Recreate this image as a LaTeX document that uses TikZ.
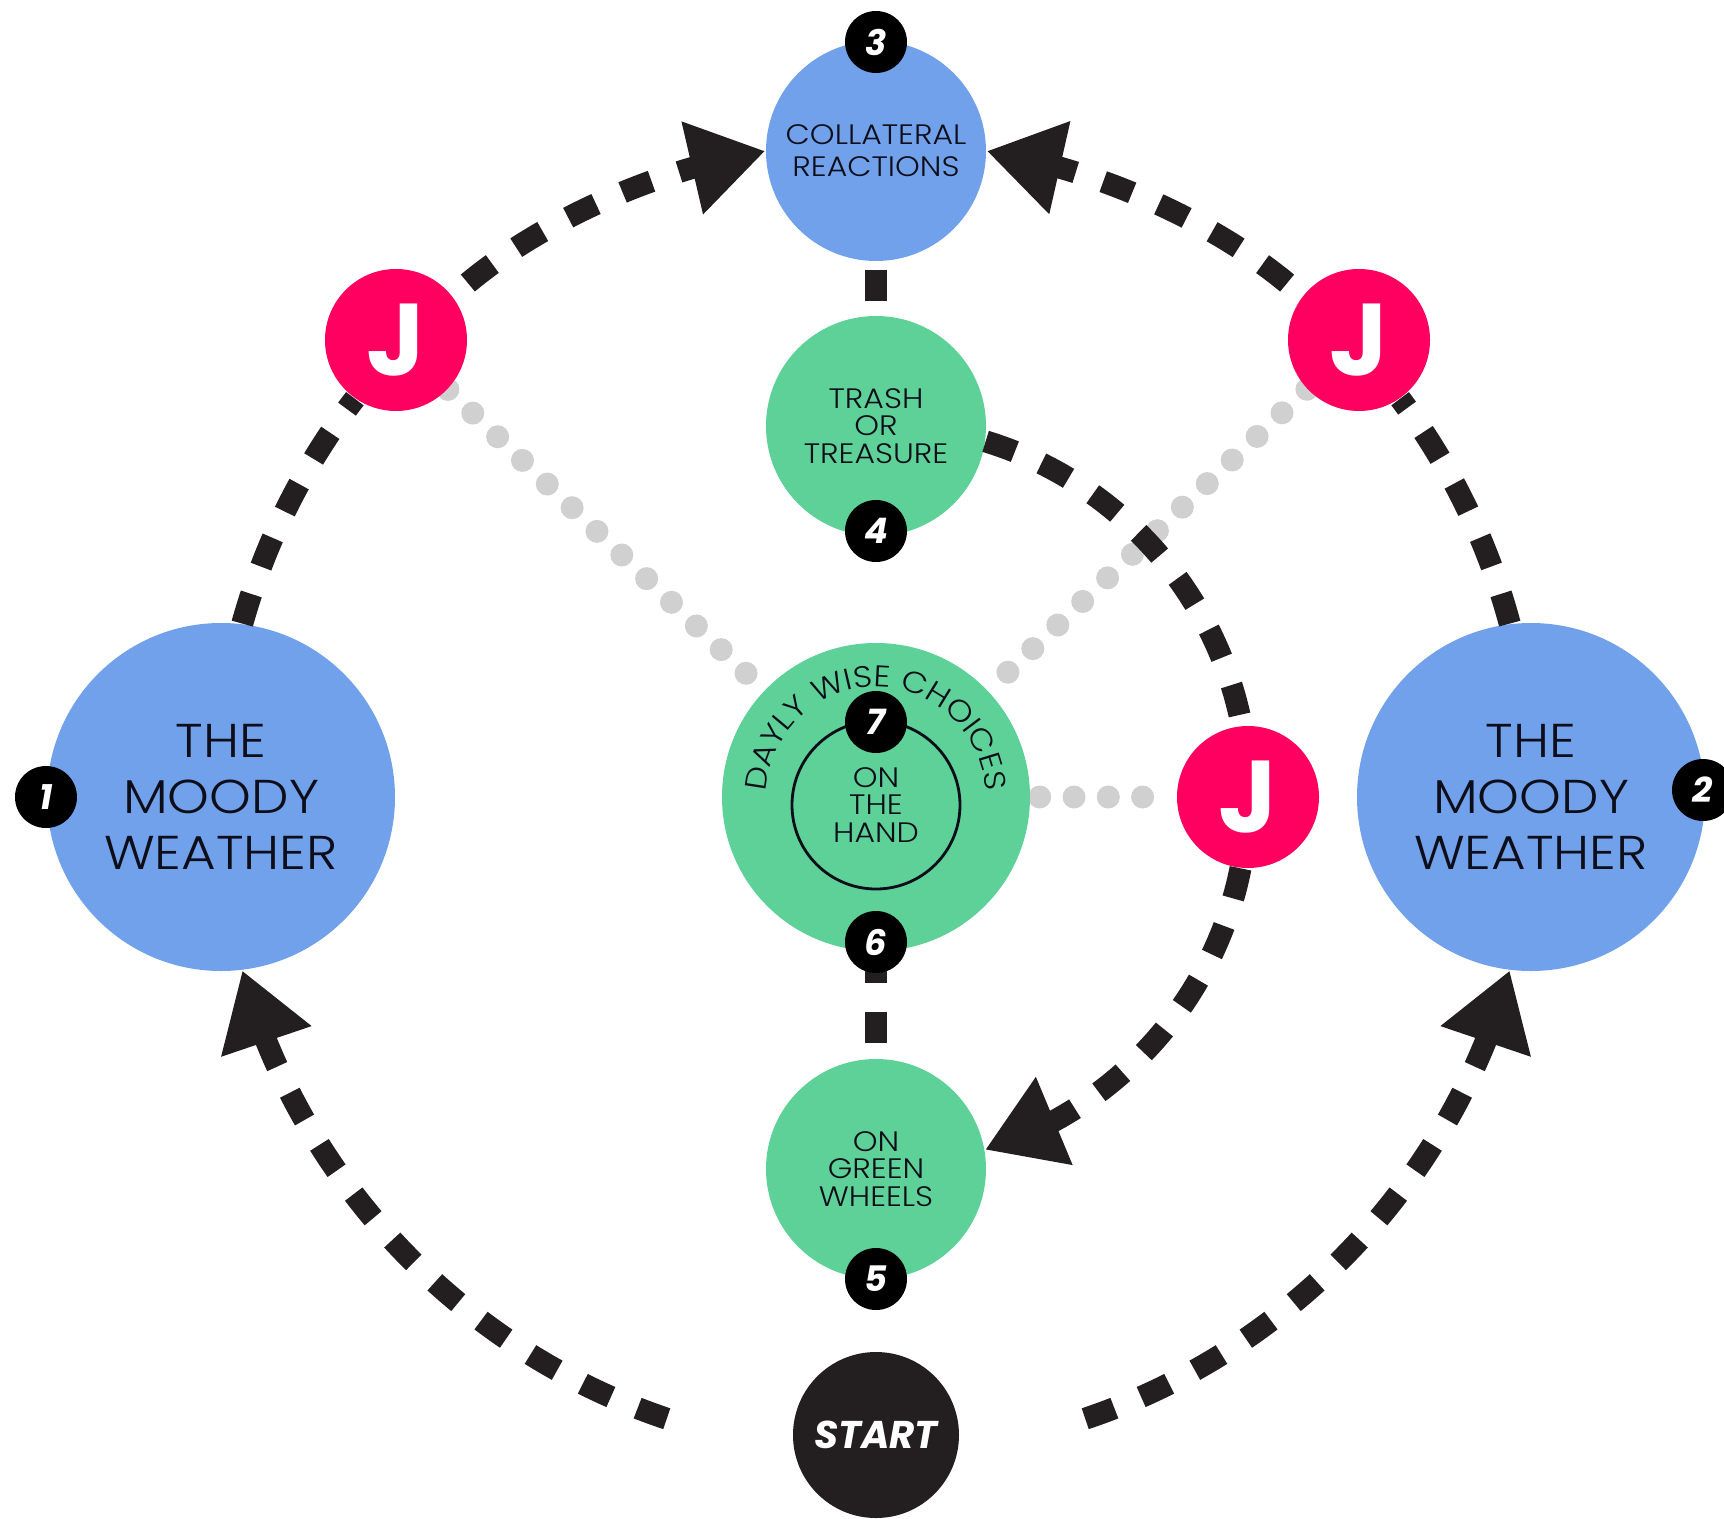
\documentclass[tikz,border=0pt]{standalone}
\usepackage{fontspec}
\setmainfont{Poppins}
\IfFontExistsTF{Poppins Light}{\newfontfamily\mont{Poppins Light}[FakeStretch=1.12]}{\newfontfamily\mont{Poppins}[FakeStretch=1.12]}
\usetikzlibrary{arrows.meta,bending,backgrounds,decorations.text}
\definecolor{moodblue}{HTML}{71A1EA}
\definecolor{leafgreen}{HTML}{5DD197}
\definecolor{jpink}{HTML}{FF0060}
\definecolor{ink}{HTML}{0E0E1A}
\definecolor{tar}{HTML}{231F20}
\definecolor{pebble}{HTML}{D0D0D0}
\newcommand{\dwcfont}{\mont\fontsize{8.5}{10}\selectfont}
\tikzset{
  bubble/.style={circle,fill=#1,text=ink,align=center,inner sep=0pt},
  badge/.style={circle,fill=black,text=white,minimum size=6.2mm,inner sep=0pt,font=\fontsize{10}{10}\selectfont\bfseries\itshape},
  jay/.style={circle,fill=jpink,text=white,minimum size=14.2mm,inner sep=0pt,font=\fontsize{29}{29}\selectfont\bfseries},
  flow/.style={draw=tar,line width=2.2mm,dash pattern=on 3.1mm off 2.9mm},
  flowtip/.style={flow,-{Triangle[length=7.5mm,width=9mm]}},
  dots/.style={draw=pebble,line width=2.3mm,line cap=round,dash pattern=on 0pt off 3.43mm}
}
\begin{document}
\begin{tikzpicture}
\useasboundingbox (-8.76,-7.21) rectangle (8.48,7.97);
\clip (-8.76,-7.21) rectangle (8.48,7.97);
\node[bubble=moodblue,minimum size=34.8mm,font=\mont\fontsize{13.5}{16}\selectfont] (moodyL) at (-6.55,0) {THE\\MOODY\\WEATHER};
\node[bubble=moodblue,minimum size=34.8mm,font=\mont\fontsize{13.5}{16}\selectfont] (moodyR) at (6.55,0) {THE\\MOODY\\WEATHER};
\node[bubble=moodblue,minimum size=22mm,font=\mont\fontsize{8}{9.1}\selectfont] (collateral) at (0,6.46) {COLLATERAL\\REACTIONS};
\node[bubble=leafgreen,minimum size=22mm,font=\mont\fontsize{8}{7.9}\selectfont] (trash) at (0,3.71) {TRASH\\OR\\TREASURE};
\node[bubble=leafgreen,minimum size=30.8mm] (choices) at (0,0) {};
\node[circle,draw=ink,line width=0.8pt,minimum size=16.8mm,inner sep=0pt,align=center,text=ink,font=\mont\fontsize{8}{7.9}\selectfont] (hand) at (0,-0.08) {ON\\THE\\HAND};
\node[bubble=leafgreen,minimum size=22mm,font=\mont\fontsize{8}{7.9}\selectfont] (wheels) at (0,-3.72) {ON\\GREEN\\WHEELS};
\node[circle,fill=tar,minimum size=16.6mm,inner sep=0pt,text=white,font=\fontsize{11}{11}\selectfont\bfseries\itshape] (start) at (0,-6.38) {START};
\node[jay] (jayL) at (-4.80,4.57) {J};
\node[jay] (jayR) at (4.83,4.57) {J};
\node[jay] (jayM) at (3.72,0) {J};
\path[decorate,decoration={text along path,text align=center,text color=ink,text={|\dwcfont|DAYLY WISE CHOICES}}] ([shift={(179:1.1)}]choices.center) arc[start angle=179,end angle=1,radius=1.1];
\coordinate (sL) at (-108.6:6.56);
\coordinate (sR) at (-71.4:6.56);
\begin{scope}[on background layer]
\draw[dots] (jayL) -- (choices);
\draw[dots] (jayR) -- (choices);
\draw[dots,shorten <=0.9mm] (choices) -- (jayM);
\end{scope}
\draw[flowtip] (sL) to[bend left=28,looseness=0.9] (moodyL.277);
\draw[flowtip] (sR) to[bend right=28,looseness=0.9] (moodyR.263);
\draw[flow] (moodyL.83) to[bend left=11,looseness=0.86] (jayL.235);
\draw[flow] (moodyR.97) to[bend right=11,looseness=0.86] (jayR.305);
\draw[flowtip,shorten <=2mm] (jayL.38) to[bend left=15,looseness=0.87] (collateral.180);
\draw[flowtip,shorten <=2mm] (jayR.142) to[bend right=15,looseness=0.87] (collateral.0);
\draw[flow] (trash.-8) to[bend left=31,looseness=0.915] (jayM.95.5);
\draw[flowtip] (jayM.264.5) to[bend left=31,looseness=0.915] (wheels.10);
\draw[flow,shorten <=0.8mm] (collateral) -- (trash);
\draw[flow] (choices) -- (wheels);
\node[badge] (b1) at (-8.30,0) {1};
\node[badge] (b2) at (8.27,0.07) {2};
\node[badge] (b3) at (0,7.55) {3};
\node[badge] (b4) at (0,2.66) {4};
\node[badge] (b5) at (0,-4.82) {5};
\node[badge] (b6) at (0,-1.45) {6};
\node[badge] (b7) at (0,0.75) {7};
\end{tikzpicture}
\end{document}
